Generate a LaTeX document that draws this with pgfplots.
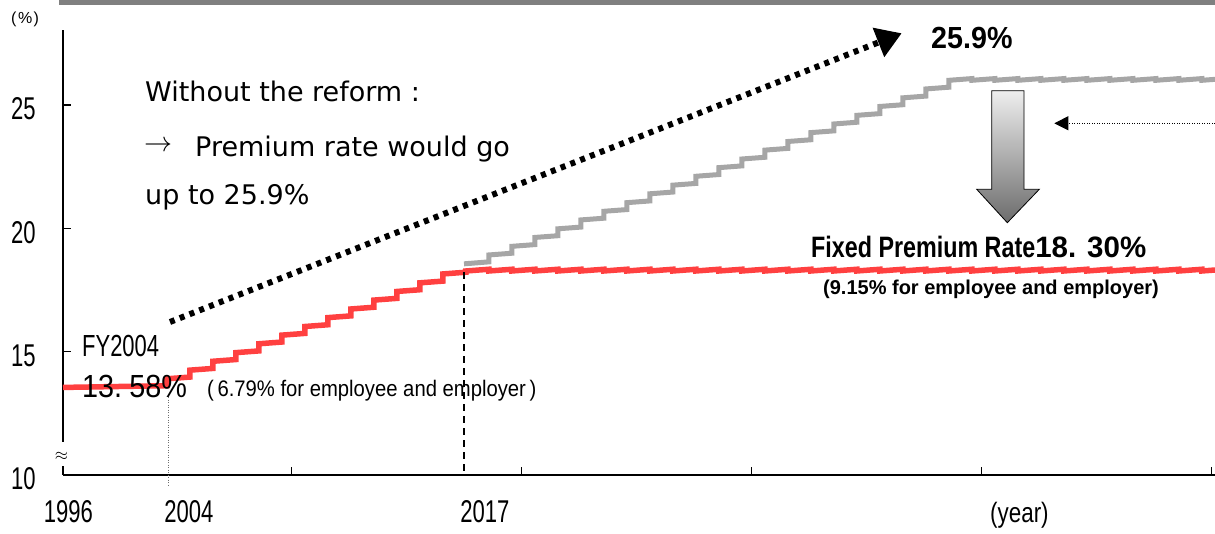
\documentclass[border=0pt]{standalone}
\usepackage{pgfplots}
\pgfplotsset{compat=1.18}
\usepackage{fontspec}
\usepackage{graphicx}
\usetikzlibrary{arrows.meta}
\setmainfont{Liberation Sans}
\newfontfamily\dvf{DejaVu Sans}
\definecolor{redline}{RGB}{255,64,64}
\definecolor{grayline}{RGB}{166,166,166}
\definecolor{topbar}{RGB}{128,128,128}
\definecolor{dotgray}{RGB}{110,110,110}
\newcommand{\fs}[1]{\fontsize{#1}{#1}\selectfont}
\newcommand{\tl}[1]{\scalebox{0.7}[1]{\fs{31.5}#1}}
\begin{document}
\begin{tikzpicture}
\useasboundingbox (-63pt,-59pt) rectangle (1152pt,475pt);
\begin{axis}[
 at={(0pt,0pt)}, anchor=south west,
 scale only axis, width=1152pt, height=445pt,
 xmin=1999.565, xmax=2049.652, ymin=10, ymax=28.04,
 axis lines=left, axis line style={line width=1.6pt, -},
 tick align=inside, major tick length=8pt,
 every tick/.style={black, line width=1.2pt},
 xtick={2009.5,2019.5,2029.5,2039.5,2049.5}, xticklabels={,,,,},
 extra x ticks={1999.80,2005.04,2017.91},
 extra x tick labels={\tl{1996},\tl{2004},\tl{2017}},
 extra x tick style={major tick length=0pt},
 xticklabel style={anchor=base, inner sep=0pt, yshift=-48pt},
 ytick={10,15,20,25}, yticklabels={\tl{10},\tl{15},\tl{20},\tl{25}},
 yticklabel style={anchor=base, inner sep=0pt, xshift=-39.5pt, yshift=-15pt},
 clip=false,
]
% premium rate without the reform (gray)
\addplot[grayline, line width=5pt] coordinates {
(2017.0,18.56) (2018.08,18.64)
(2018.08,18.92) (2019.08,18.99)
(2019.08,19.27) (2020.08,19.34)
(2020.08,19.63) (2021.08,19.70)
(2021.08,19.98) (2022.08,20.05)
(2022.08,20.34) (2023.08,20.41)
(2023.08,20.69) (2024.08,20.76)
(2024.08,21.04) (2025.08,21.11)
(2025.08,21.40) (2026.08,21.47)
(2026.08,21.75) (2027.08,21.82)
(2027.08,22.11) (2028.08,22.18)
(2028.08,22.46) (2029.08,22.53)
(2029.08,22.81) (2030.08,22.88)
(2030.08,23.17) (2031.08,23.24)
(2031.08,23.52) (2032.08,23.59)
(2032.08,23.88) (2033.08,23.95)
(2033.08,24.23) (2034.08,24.30)
(2034.08,24.58) (2035.08,24.65)
(2035.08,24.94) (2036.08,25.01)
(2036.08,25.29) (2037.08,25.36)
(2037.08,25.65) (2038.08,25.72)
(2038.08,26.00) (2039.08,26.07)
(2039.08,26.00) (2040.08,26.07)
(2040.08,26.00) (2041.08,26.07)
(2041.08,26.00) (2042.08,26.07)
(2042.08,26.00) (2043.08,26.07)
(2043.08,26.00) (2044.08,26.07)
(2044.08,26.00) (2045.08,26.07)
(2045.08,26.00) (2046.08,26.07)
(2046.08,26.00) (2047.08,26.07)
(2047.08,26.00) (2048.08,26.07)
(2048.08,26.00) (2049.08,26.07)
(2049.08,26.00) (2049.652,26.04)
};
% premium rate with the reform (red)
\addplot[redline, line width=5.5pt] coordinates {
(1999.565,13.55) (2004.08,13.62)
(2004.08,13.90) (2005.08,13.97)
(2005.08,14.25) (2006.08,14.32)
(2006.08,14.61) (2007.08,14.68)
(2007.08,14.96) (2008.08,15.03)
(2008.08,15.32) (2009.08,15.39)
(2009.08,15.67) (2010.08,15.74)
(2010.08,16.02) (2011.08,16.09)
(2011.08,16.38) (2012.08,16.45)
(2012.08,16.73) (2013.08,16.80)
(2013.08,17.09) (2014.08,17.16)
(2014.08,17.44) (2015.08,17.51)
(2015.08,17.79) (2016.08,17.86)
(2016.08,18.15) (2017.08,18.22)
(2017.08,18.27) (2018.08,18.34)
(2018.08,18.27) (2019.08,18.34)
(2019.08,18.27) (2020.08,18.34)
(2020.08,18.27) (2021.08,18.34)
(2021.08,18.27) (2022.08,18.34)
(2022.08,18.27) (2023.08,18.34)
(2023.08,18.27) (2024.08,18.34)
(2024.08,18.27) (2025.08,18.34)
(2025.08,18.27) (2026.08,18.34)
(2026.08,18.27) (2027.08,18.34)
(2027.08,18.27) (2028.08,18.34)
(2028.08,18.27) (2029.08,18.34)
(2029.08,18.27) (2030.08,18.34)
(2030.08,18.27) (2031.08,18.34)
(2031.08,18.27) (2032.08,18.34)
(2032.08,18.27) (2033.08,18.34)
(2033.08,18.27) (2034.08,18.34)
(2034.08,18.27) (2035.08,18.34)
(2035.08,18.27) (2036.08,18.34)
(2036.08,18.27) (2037.08,18.34)
(2037.08,18.27) (2038.08,18.34)
(2038.08,18.27) (2039.08,18.34)
(2039.08,18.27) (2040.08,18.34)
(2040.08,18.27) (2041.08,18.34)
(2041.08,18.27) (2042.08,18.34)
(2042.08,18.27) (2043.08,18.34)
(2043.08,18.27) (2044.08,18.34)
(2044.08,18.27) (2045.08,18.34)
(2045.08,18.27) (2046.08,18.34)
(2046.08,18.27) (2047.08,18.34)
(2047.08,18.27) (2048.08,18.34)
(2048.08,18.27) (2049.08,18.34)
(2049.08,18.27) (2049.652,18.31)
};
% reference lines
\draw[dotgray, line width=1pt, dash pattern=on 1pt off 1.5pt] (axis cs:2004.17,13.16) -- (axis cs:2004.17,9.595);
\draw[black, line width=1.3pt, dash pattern=on 7pt off 5pt] (axis cs:2017,18.22) -- (axis cs:2017,10);
% thick dotted arrow
\draw[black, line width=6pt, dash pattern=on 5pt off 5.5pt, -{Triangle[length=25pt,width=30pt]}] (axis cs:2004.217,16.203) -- (axis cs:2036.03,27.907);
% gradient down arrow
\draw[draw=black, line width=0.8pt, top color={rgb,255:red,238;green,238;blue,238}, bottom color={rgb,255:red,108;green,108;blue,108}]
 (axis cs:2039.943,25.580) -- (axis cs:2041.348,25.580) -- (axis cs:2041.348,21.582) -- (axis cs:2042.013,21.582)
 -- (axis cs:2040.622,20.228) -- (axis cs:2039.291,21.582) -- (axis cs:2039.943,21.582) -- cycle;
% thin dotted arrow from the right
\draw[black, line width=0.9pt, dash pattern=on 1pt off 1.5pt, -{Triangle[length=14pt,width=14pt]}] (axis cs:2049.652,24.258) -- (axis cs:2042.665,24.258);
\end{axis}
\begin{scope}[shift={(-63pt,475pt)}, x=1pt, y=-1pt]
 \fill[topbar] (59,0) rectangle (1215,5);
 \node[fill=white, inner sep=0pt, minimum width=10pt, minimum height=24pt] at (63,454.5) {};
 \node[inner sep=0pt] at (61.5,456) {\scalebox{1.7}{$\approx$}};
 \node[anchor=base west, inner sep=0pt] at (11,23.5) {\fs{16}(\hspace{1.5pt}\%\hspace{1.5pt})};
 \node[anchor=base west, inner sep=0pt] at (145,101.7) {\dvf\fs{27}Without the reform :};
 \node[anchor=base west, inner sep=0pt] at (144,152) {\scalebox{2.8}{$\rightarrow$}};
 \node[anchor=base west, inner sep=0pt] at (195,156.7) {\dvf\fs{27}Premium rate would go};
 \node[anchor=base west, inner sep=0pt] at (145,205) {\dvf\fs{27}up to 25.9\%};
 \node[anchor=base west, inner sep=0pt] at (82,357) {\scalebox{0.72}[1]{\fs{30.5}FY2004}};
 \node[anchor=base west, inner sep=0pt] at (82,398) {\scalebox{0.9}[1]{\fs{32}13.\hspace{8pt}58\%}};
 \node[anchor=base west, inner sep=0pt] at (207,397) {\scalebox{0.9}[1]{\fs{22.5}(\hspace{4pt}6.79\% for employee and employer\hspace{4pt})}};
 \node[anchor=base west, inner sep=0pt] at (931,49) {\scalebox{0.94}[1]{\bfseries\fs{30.5}25.9\%}};
 \node[anchor=base west, inner sep=0pt] at (811,258) {\bfseries\fs{29.5}\scalebox{0.79}[1]{Fixed Premium Rate}18.\hspace{11pt}30\%};
 \node[anchor=base west, inner sep=0pt] at (823,295) {\bfseries\fs{20}(9.15\% for employee and employer)};
 \node[anchor=base west, inner sep=0pt] at (990,523) {\scalebox{0.8}[1]{\fs{28}(year)}};
\end{scope}
\end{tikzpicture}
\end{document}
